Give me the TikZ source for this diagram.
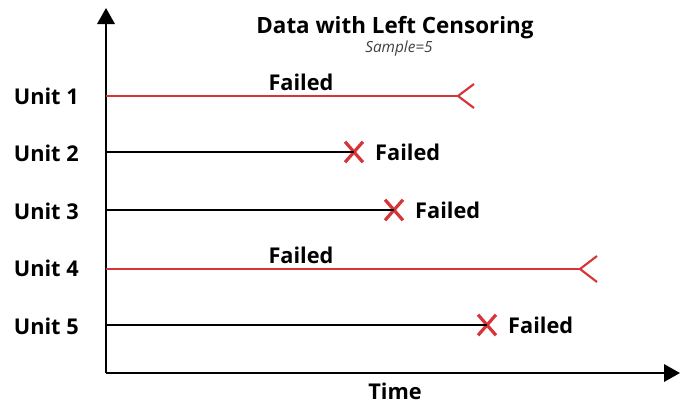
\documentclass[tikz,border=0pt]{standalone}
\usepackage{fontspec}
\setmainfont{Open Sans}
\usepackage{tikz}
\usetikzlibrary{arrows.meta, positioning, shapes.misc}
\definecolor{failred}{RGB}{214,52,54}

\begin{document}
\begin{tikzpicture}[x=0.75pt, y=-0.75pt,
    unit/.style={font=\fontsize{16.3}{19}\selectfont\bfseries, inner sep=0pt},
    head/.style={font=\fontsize{16.8}{20}\selectfont\bfseries, inner sep=0pt},
    note/.style={font=\fontsize{11.5}{13}\selectfont\itshape, text=black!75, inner sep=0pt},
    axis/.style={-{Triangle[length=12pt, width=13pt]}, line width=1.8pt},
    life/.style={line width=1.7pt},
    cens/.style={line width=1.6pt, failred},
    xmark/.style={cross out, draw=failred, line width=2.4pt, minimum width=11pt,
                  minimum height=13pt, inner sep=0pt}]
    \useasboundingbox (0,0) rectangle (680,405);

    % axes
    \coordinate (origin) at (106,373);
    \coordinate (ytop) at (106,8);
    \coordinate (xend) at (680,373);
    \draw[axis] (origin) -- (ytop);
    \draw[axis] (origin) -- (xend);
    \node[unit] (time) at (395,391) {Time};

    % title
    \node[head] (title) at (395,28) {Data with Left Censoring};
    \node[note] (sample) at (399,49) {Sample=5};

    % unit labels
    \node[unit, anchor=east] (unit1) at (79,96) {Unit 1};
    \node[unit, anchor=east] (unit2) at (79,153) {Unit 2};
    \node[unit, anchor=east] (unit3) at (79,211) {Unit 3};
    \node[unit, anchor=east] (unit4) at (79,268) {Unit 4};
    \node[unit, anchor=east] (unit5) at (79,326) {Unit 5};

    % left censored units
    \coordinate (s1) at (106,96);
    \coordinate (e1) at (458,96);
    \draw[cens] (s1) -- (e1);
    \draw[cens] (e1) ++(16,-12) -- (e1) -- ++(16,12);
    \node[unit] (fail1) at (301,82) {Failed};

    \coordinate (s4) at (106,269);
    \coordinate (e4) at (580,269);
    \draw[cens] (s4) -- (e4);
    \draw[cens] (e4) ++(17,-13) -- (e4) -- ++(17,13);
    \node[unit] (fail4) at (301,255) {Failed};

    % failed units
    \coordinate (s2) at (106,152);
    \node[xmark] (x2) at (354,152) {};
    \draw[life] (s2) -- (x2.center);
    \node[unit, right=9pt of x2] (fail2) {Failed};

    \coordinate (s3) at (106,210);
    \node[xmark] (x3) at (394,210) {};
    \draw[life] (s3) -- (x3.center);
    \node[unit, right=9pt of x3] (fail3) {Failed};

    \coordinate (s5) at (106,325);
    \node[xmark] (x5) at (487,325) {};
    \draw[life] (s5) -- (x5.center);
    \node[unit, right=9pt of x5] (fail5) {Failed};
\end{tikzpicture}
\end{document}
